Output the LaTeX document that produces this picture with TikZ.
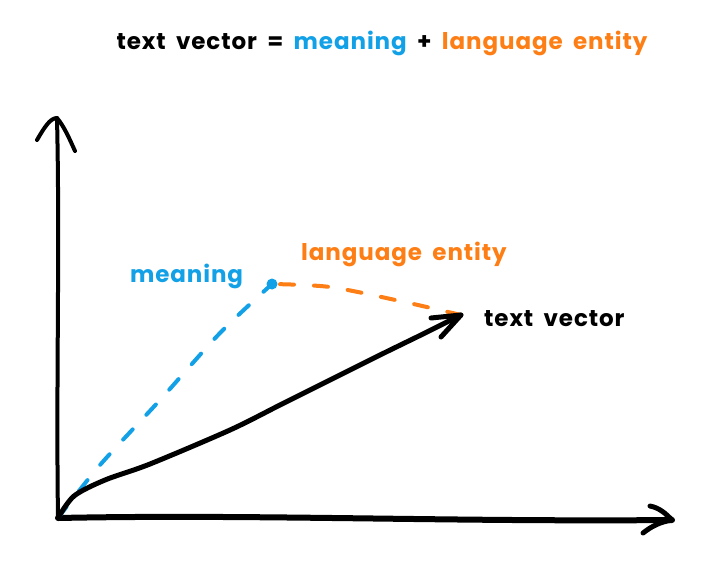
\documentclass[tikz,border=0pt]{standalone}
\usepackage{fontspec}
\setmainfont{Poppins}[LetterSpace=4]
\usetikzlibrary{positioning}
\definecolor{meaningblue}{RGB}{18,160,230}
\definecolor{entityorange}{RGB}{253,126,20}
\newcommand{\labelfont}{\fontsize{23}{27}\selectfont\bfseries\spaceskip=0.45em\relax}

\begin{document}
\begin{tikzpicture}[x=1pt,y=-1pt,
    axis/.style={line width=5pt,line cap=round,line join=round},
    part/.style={line width=4pt,line cap=round,dash pattern=on 14pt off 20pt},
    label/.style={font=\labelfont,inner sep=1pt}]
    \useasboundingbox (0,0) rectangle (714,579);

    % Points
    \coordinate (O) at (58,518);
    \coordinate (ytop) at (57,118);
    \coordinate (xend) at (672,520);
    \coordinate (tip) at (461,315);
    \node[circle,fill=meaningblue,inner sep=0pt,minimum size=11pt] (m) at (272,284) {};

    % Axes
    \draw[axis,line width=4pt] (O) .. controls (56,380) and (60,250) .. (ytop);
    \draw[axis,line width=4pt] (37,140) .. controls (44,128) and (50,118) .. (ytop)
        .. controls (64,126) and (70,140) .. (75,151);
    \draw[axis,line width=6pt] (O) .. controls (250,514) and (450,522) .. (xend);
    \draw[axis] (650,506) .. controls (660,508) and (666,514) .. (xend)
        .. controls (660,522) and (652,526) .. (643,533);

    % Parts of the vector
    \draw[part,meaningblue] plot[smooth] coordinates {(O) (100,465) (160,400) (220,333) (m)};
    \draw[part,entityorange,dash phase=-8pt] plot[smooth] coordinates {(m) (330,287) (400,301) (tip)};

    % Text vector
    \draw[axis] plot[smooth] coordinates {(O) (74,496) (105,480) (150,464) (230,430)
        (280,405) (330,380) (380,355) (425,333) (tip)};
    \draw[axis] (431,318) -- (tip) -- (441,337);

    % Labels
    \node[label,right=22pt of tip,yshift=-4pt] (tv) {text vector};
    \node[label,meaningblue,left=22pt of m,yshift=8pt] (ml) {meaning};
    \node[label,entityorange,above right=12pt and 24pt of m] (el) {language entity};
    \node[label] (title) at (382,43) {text vector = \textcolor{meaningblue}{meaning}
        + \textcolor{entityorange}{language entity}};
\end{tikzpicture}
\end{document}
